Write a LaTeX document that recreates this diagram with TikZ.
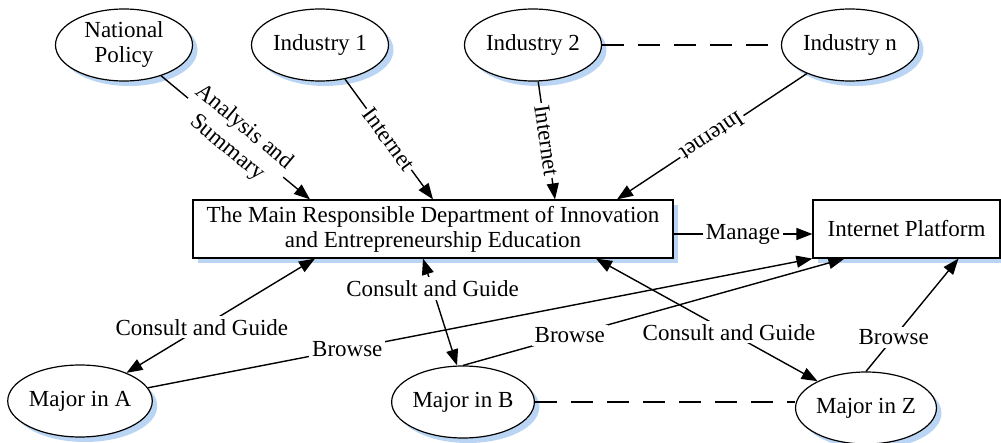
\documentclass[tikz,border=0pt]{standalone}
\usepackage{fontspec}
\setmainfont{Liberation Serif}
\usepackage{xcolor}
\usepackage{tikz}
\usetikzlibrary{positioning, arrows.meta, shapes.geometric, shadows}
\definecolor{ShadowBlue}{HTML}{A8CBF0}

\begin{document}
\begin{tikzpicture}[
  x=0.5pt, y=-0.5pt,
  >={Triangle[length=8pt, width=6pt]},
  font=\fontsize{11.5}{12.5}\selectfont,
  shadowed/.style={drop shadow={shadow xshift=2.5pt, shadow yshift=-2.5pt,
                   fill=ShadowBlue, opacity=0.8}},
  ellnode/.style={ellipse, draw, fill=white, shadowed, line width=0.6pt,
                  minimum width=68.5pt, minimum height=36pt, inner sep=0pt, align=center},
  boxnode/.style={rectangle, draw, fill=white, shadowed, line width=0.6pt,
                  minimum height=29pt, inner sep=2pt, align=center},
  onearr/.style={->, line width=0.7pt},
  dblarr/.style={<->, line width=0.7pt},
  dasharr/.style={line width=1.1pt, dash pattern=on 11pt off 7pt},
  arrlbl/.style={fill=white, inner sep=1.5pt},
  slopelbl/.style={fill=white, inner sep=1pt, sloped, allow upside down, align=center},
]
  \useasboundingbox (0,0) rectangle (1001,443);

  % Sources: top row
  \node[ellnode] (np)   at (124,45) {National\\Policy};
  \node[ellnode] (ind1) at (320,45) {Industry 1};
  \node[ellnode] (ind2) at (533,45) {Industry 2};
  \node[ellnode] (indn) at (850,45) {Industry n};

  % Department and platform: middle row
  \node[boxnode, minimum width=240pt] (main) at (433,229)
    {The Main Responsible Department of Innovation\\and Entrepreneurship Education};
  \node[boxnode, minimum width=93.5pt] (plat) at (906.5,229) {Internet Platform};

  % Majors: bottom row
  \node[ellnode] (ma) at (80,401)  {Major in A};
  \node[ellnode] (mb) at (463,402) {Major in B};
  \node[ellnode] (mz) at (866,408) {Major in Z};

  %% top row -> department
  \draw[onearr] (np) -- ([xshift=-61.5pt]main.north)
    node[midway, slopelbl] {Analysis and\\[1pt]Summary};
  \draw[onearr] (ind1) -- (main.north)
    node[midway, slopelbl] {Internet};
  \draw[onearr] (ind2) -- ([xshift=61pt]main.north)
    node[midway, slopelbl] {Internet};
  \draw[onearr] (indn) -- ([xshift=92pt]main.north)
    node[midway, slopelbl] {Internet};
  \draw[dasharr] (ind2) -- (indn);

  %% department -> platform
  \draw[onearr] ([yshift=-2.5pt]main.east) -- ([yshift=-2.5pt]plat.west)
    node[midway, arrlbl] {Manage};

  %% department <-> majors
  \draw[dblarr] ([xshift=-59pt]main.south) -- (ma)
    node[pos=0.6, arrlbl] {Consult and Guide};
  \draw[dblarr] ([xshift=-5pt]main.south) -- ([xshift=-3pt]mb.north)
    node[pos=0.28, arrlbl] {Consult and Guide};
  \draw[dblarr] ([xshift=81.5pt]main.south) -- (mz)
    node[pos=0.6, arrlbl] {Consult and Guide};

  %% majors -> platform
  \draw[onearr] (ma) -- (plat.south west)
    node[pos=0.3, arrlbl] {Browse};
  \draw[onearr] (mb.north) -- ([xshift=16pt]plat.south west)
    node[pos=0.28, arrlbl] {Browse};
  \draw[onearr] (mz.north) -- ([xshift=26pt]plat.south)
    node[pos=0.3, arrlbl] {Browse};
  \draw[dasharr] (mb.east) -- (mb.east -| mz.west);

\end{tikzpicture}
\end{document}
